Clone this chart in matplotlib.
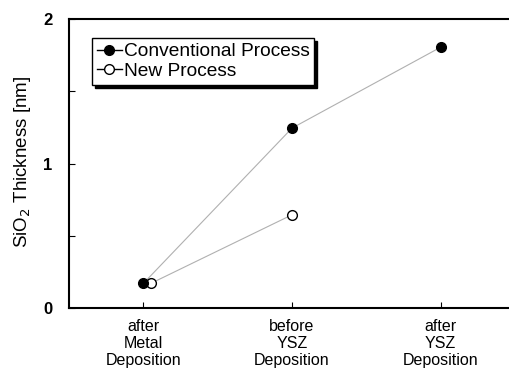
import matplotlib.pyplot as plt
from matplotlib.lines import Line2D

plt.rcParams['font.family'] = ['Liberation Sans', 'DejaVu Sans']

stages = ['after\nMetal\nDeposition', 'before\nYSZ\nDeposition', 'after\nYSZ\nDeposition']
conv_x = [0, 1, 2]
conv_y = [0.17, 1.245, 1.805]
new_x = [0.05, 1]
new_y = [0.17, 0.645]

fig = plt.figure(figsize=(5.09, 3.69), dpi=100)
ax = fig.add_axes([0.1356, 0.1653, 0.876, 0.783])

ax.plot(conv_x, conv_y, '-', color='#b0b0b0', lw=0.8, zorder=1)
ax.plot(new_x, new_y, '-', color='#b0b0b0', lw=0.8, zorder=1)
ax.plot(conv_x, conv_y, 'o', ms=7, mfc='black', mec='black', zorder=3)
ax.plot(new_x, new_y, 'o', ms=7, mfc='white', mec='black', mew=1.0, zorder=2)

ax.set_xlim(-0.5, 2.5)
ax.set_ylim(0, 2)
ax.set_yticks([0, 1, 2])
ax.set_yticklabels(['0', '1', '2'], fontsize=12, fontweight='bold')
ax.set_yticks([0.5, 1.5], minor=True)
ax.set_xticks(conv_x)
ax.set_xticklabels(stages, fontsize=11.5, linespacing=1.15)
ax.tick_params(axis='y', which='both', direction='in', length=4, width=0.8, pad=12)
ax.tick_params(axis='x', direction='in', length=4, width=0.8, pad=8)
ax.spines['right'].set_visible(False)
for s in ['left', 'top', 'bottom']:
    ax.spines[s].set_linewidth(1.5)

fig.text(23 / 509, 1 - 162 / 369, 'SiO$_2$ Thickness [nm]', rotation=90,
         ha='center', va='center', fontsize=13.5)

handles = [Line2D([], [], color='black', lw=1, marker='o', ms=7, mfc='black', mec='black'),
           Line2D([], [], color='black', lw=1, marker='o', ms=7, mfc='white', mec='black')]
leg = ax.legend(handles, ['Conventional Process', 'New Process'], loc='upper left',
                bbox_to_anchor=(0.052, 0.934), fontsize=13.8, frameon=True, fancybox=False,
                shadow={'color': 'black', 'alpha': 1}, handlelength=1.3, handletextpad=0.1,
                borderpad=0.25, labelspacing=0.12, borderaxespad=0)
leg.get_frame().set_edgecolor('black')
leg.get_frame().set_linewidth(1.0)

fig.savefig('out.png', dpi=100)
